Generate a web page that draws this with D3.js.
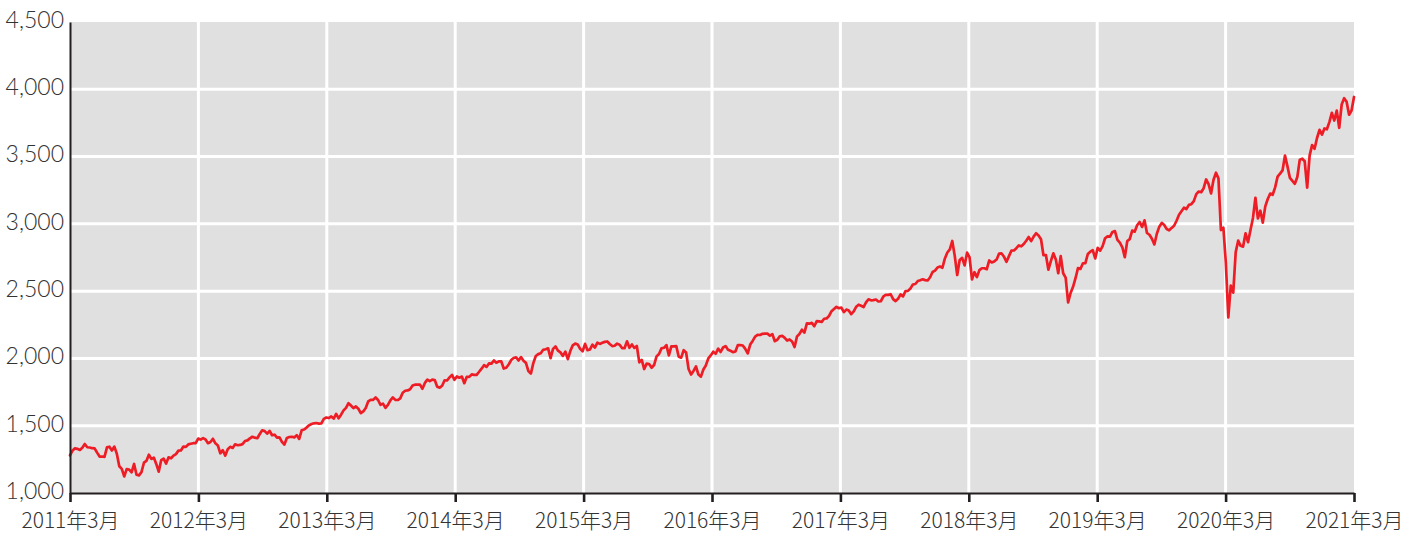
<!DOCTYPE html>
<html>
<head>
<meta charset="utf-8">
<script src="https://cdn.jsdelivr.net/npm/d3@7"></script>
<style>
  html, body { margin: 0; padding: 0; background: #fff; }
  svg { display: block; }
  text { font-family: "Noto Sans", "Noto Sans CJK JP", sans-serif; }
</style>
</head>
<body>
<svg id="chart" width="1416" height="534"></svg>
<script>
// Weekly closes, first week = 2011-03-18, last week = 2021-03-12
const firstWeek = "2011-03-18";
const closes2011 = [1279,1314,1332,1328,1320,1337,1364,1340,1338,1333,1331,1300,1271,1271,1268,1339,1344,1316,1345,1292,1199,1179,1123,1177,1174,1154,1216,1136,1131,1155,1225,1238,1285,1253,1263,1216,1159,1244,1255,1219,1265,1258];
const closes2012 = [1278,1289,1315,1316,1345,1343,1361,1366,1370,1371,1404,1397,1408,1398,1370,1379,1403,1369,1353,1295,1318,1278,1325,1343,1335,1362,1355,1357,1363,1386,1391,1406,1418,1411,1407,1438,1466,1460,1441,1461,1429,1433,1412,1414,1380,1360,1409,1416,1418,1413,1430,1402];
const closes2013 = [1466,1472,1486,1503,1513,1518,1520,1516,1518,1551,1561,1557,1569,1553,1588,1555,1582,1614,1633,1667,1650,1631,1643,1626,1593,1606,1632,1680,1692,1692,1710,1691,1655,1664,1633,1655,1688,1710,1692,1691,1703,1745,1760,1762,1771,1798,1805,1806,1805,1775,1818,1842];
const closes2014 = [1831,1842,1839,1790,1783,1797,1838,1836,1859,1878,1841,1866,1857,1865,1816,1864,1863,1881,1878,1878,1901,1924,1950,1937,1963,1961,1985,1968,1978,1978,1925,1931,1955,1988,2003,2008,1985,2010,1983,1967,1906,1887,1965,2018,2032,2039,2064,2068,2075,2002,2071,2089];
const closes2015 = [2058,2045,2019,2051,1995,2055,2097,2110,2104,2071,2053,2108,2061,2067,2102,2081,2117,2108,2116,2123,2126,2107,2092,2094,2110,2102,2077,2076,2127,2079,2104,2078,2092,1971,1989,1921,1961,1958,1931,1951,2015,2033,2075,2079,2099,2023,2089,2090,2092,2012,2006,2061,2044];
const closes2016 = [1922,1880,1907,1940,1880,1865,1918,1948,2000,2022,2050,2035,2073,2048,2081,2092,2065,2057,2047,2052,2099,2099,2096,2071,2037,2103,2130,2162,2175,2174,2183,2184,2184,2169,2180,2128,2139,2165,2168,2153,2133,2141,2126,2085,2164,2182,2213,2192,2260,2258,2264,2239];
const closes2017 = [2277,2275,2271,2295,2297,2316,2351,2367,2383,2373,2378,2344,2363,2356,2329,2349,2384,2399,2391,2382,2416,2439,2432,2433,2438,2423,2425,2459,2473,2472,2477,2441,2426,2443,2476,2461,2500,2502,2519,2549,2553,2575,2581,2588,2582,2579,2603,2642,2652,2676,2683,2674];
const closes2018 = [2743,2787,2810,2873,2762,2620,2732,2747,2691,2786,2752,2588,2641,2604,2656,2670,2670,2663,2728,2713,2721,2735,2779,2780,2755,2718,2760,2801,2802,2819,2840,2833,2850,2875,2902,2872,2905,2930,2914,2886,2767,2768,2659,2723,2781,2736,2633,2760,2633,2600,2417,2486];
const closes2019 = [2532,2596,2671,2665,2707,2708,2776,2793,2804,2743,2822,2801,2834,2893,2907,2905,2940,2946,2881,2860,2826,2752,2873,2887,2950,2942,2990,3014,2977,3026,2932,2919,2889,2847,2926,2979,3007,2992,2962,2952,2970,2986,3023,3067,3093,3120,3110,3141,3146,3169,3221,3240];
const closes2020 = [3235,3265,3330,3295,3226,3328,3380,3338,2954,2972,2711,2305,2541,2489,2790,2875,2837,2831,2930,2864,2955,3044,3194,3041,3098,3009,3130,3185,3225,3216,3271,3351,3373,3397,3508,3427,3341,3319,3298,3348,3477,3484,3465,3270,3509,3585,3558,3638,3699,3663,3709,3703,3756];
const closes2021 = [3825,3768,3841,3714,3887,3934,3907,3811,3842,3943];

const xTickLabels = ["2011年3月","2012年3月","2013年3月","2014年3月","2015年3月","2016年3月","2017年3月","2018年3月","2019年3月","2020年3月","2021年3月"];
const yTickValues = [1000,1500,2000,2500,3000,3500,4000,4500];

const closes = [].concat(closes2011, closes2012, closes2013, closes2014, closes2015,
  closes2016, closes2017, closes2018, closes2019, closes2020, closes2021);
const t0 = new Date(firstWeek + "T00:00:00Z");
const data = closes.map((v, i) => ({ date: d3.utcDay.offset(t0, 7 * i), value: v }));

const W = 1416, H = 534;
const margin = { top: 22, right: 62, bottom: 41, left: 70 };
const iw = W - margin.left - margin.right;
const ih = H - margin.top - margin.bottom;

const svg = d3.select("#chart");
const g = svg.append("g").attr("transform", `translate(${margin.left},${margin.top})`);

const x = d3.scaleUtc().domain(d3.extent(data, d => d.date)).range([0, iw]);
const y = d3.scaleLinear().domain([1000, 4500]).range([ih, 0]);

const [d0, d1] = x.domain();
const xTickDates = xTickLabels.map((_, k) => new Date(+d0 + k * (d1 - d0) / (xTickLabels.length - 1)));

// background
g.append("rect").attr("x", 0).attr("y", 0).attr("width", iw).attr("height", ih).attr("fill", "#e0e0e0");

// gridlines
g.append("g").selectAll("line").data(yTickValues.slice(1, -1)).join("line")
  .attr("x1", 0).attr("x2", iw)
  .attr("y1", d => y(d)).attr("y2", d => y(d))
  .attr("stroke", "#fff").attr("stroke-width", 3);
g.append("g").selectAll("line").data(xTickDates.slice(1, -1)).join("line")
  .attr("x1", d => x(d)).attr("x2", d => x(d))
  .attr("y1", 0).attr("y2", ih)
  .attr("stroke", "#fff").attr("stroke-width", 3);

// line
const line = d3.line().x(d => x(d.date)).y(d => y(d.value)).curve(d3.curveLinear);
g.append("path").datum(data)
  .attr("fill", "none").attr("stroke", "#ee1c25").attr("stroke-width", 2.7)
  .attr("stroke-linejoin", "round").attr("stroke-linecap", "round")
  .attr("d", line);

// x axis
const xAxis = g.append("g").attr("transform", `translate(0,${ih})`)
  .call(d3.axisBottom(x).tickValues(xTickDates).tickFormat((d, i) => xTickLabels[i]).tickSize(9).tickSizeOuter(0));
xAxis.select(".domain").attr("stroke", "#231f20").attr("stroke-width", 2);
xAxis.selectAll(".tick line").attr("stroke", "#231f20").attr("stroke-width", 2.6);
xAxis.selectAll(".tick text").attr("fill", "#333").attr("font-size", 21).attr("font-weight", 300)
  .attr("y", 34.6).attr("dy", 0)
  .style("font-family", "'Noto Sans CJK JP', 'Noto Sans', sans-serif");

// y axis
const yAxis = g.append("g")
  .call(d3.axisLeft(y).tickValues(yTickValues).tickFormat(d3.format(",")).tickSize(0).tickPadding(6));
yAxis.select(".domain").attr("stroke", "#231f20").attr("stroke-width", 2);
yAxis.selectAll(".tick text").attr("fill", "#333").attr("font-size", 23).attr("font-weight", 300)
  .attr("dy", "0.23em")
  .style("font-family", "Lato, 'Noto Sans', sans-serif");
</script>
</body>
</html>
